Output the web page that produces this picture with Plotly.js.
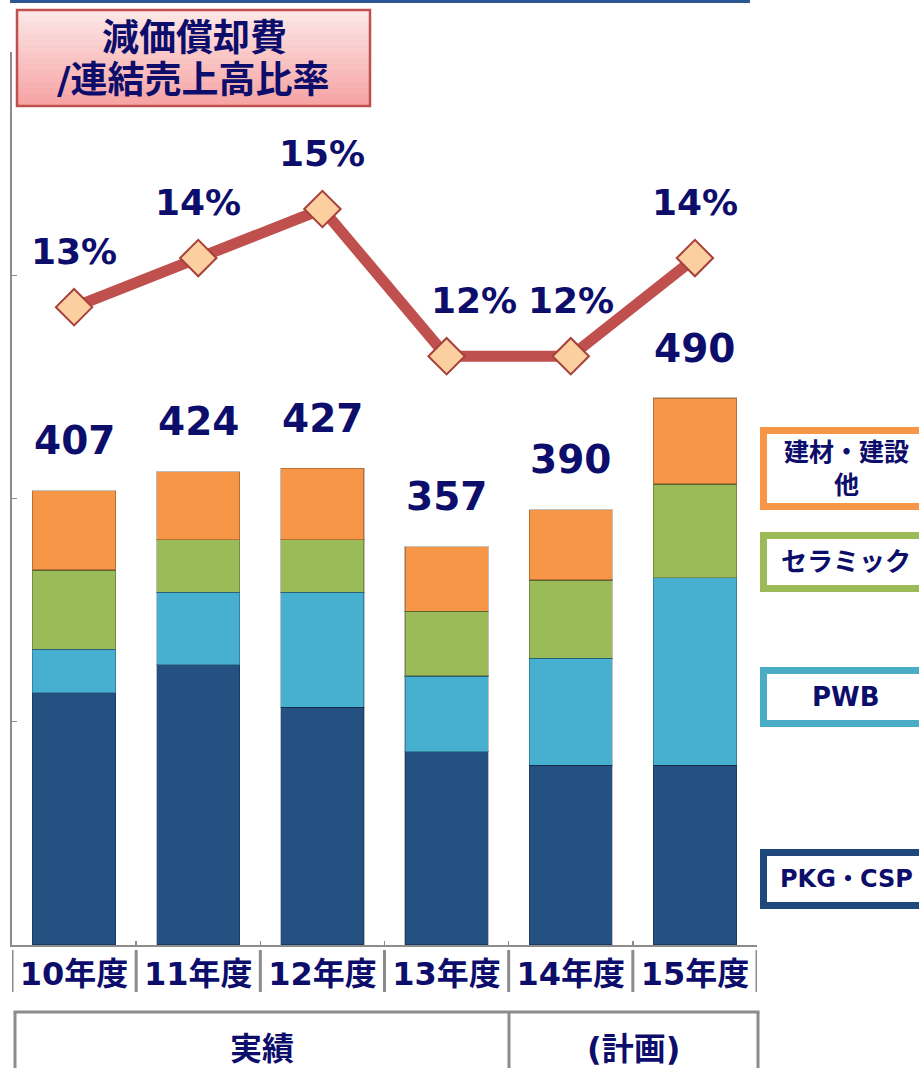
<!DOCTYPE html>
<html>
<head>
<meta charset="utf-8">
<script src="https://cdn.plot.ly/plotly-3.0.1.min.js"></script>
<style>html,body{margin:0;padding:0;background:#fff;}#chart{width:919px;height:1068px;}</style>
</head>
<body>
<div id="chart"></div>
<script>
// ---- data ----
const categories = ['10年度', '11年度', '12年度', '13年度', '14年度', '15年度'];
const pkgCsp   = [226, 251, 213, 173, 161, 161];
const pwb      = [39, 65, 103, 68, 96, 168];
const ceramic  = [71, 47, 47, 58, 70, 84];
const building = [71, 61, 64, 58, 63, 77];
const totals   = [407, 424, 427, 357, 390, 490];
const ratio    = [13, 14, 15, 12, 12, 14];
const ratioLabels = ['13%', '14%', '15%', '12%', '12%', '14%'];
const seriesNames = ['PKG・CSP', 'PWB', 'セラミック', '建材・建設<br>他'];
const periodLabels = ['実績', '(計画)'];
const titleLines = ['減価償却費', '/連結売上高比率'];

// ---- style ----
const FONT = "'DejaVu Sans', 'Noto Sans CJK JP', sans-serif";
const NAVY = '#0d0d6b';
const GREY = '#8c8c8c';
const colors = ['#255082', '#47afd0', '#9bbb59', '#f79646'];

// plot area in pixels
const L = 12, R = 757, T = 52, B = 945;
const px = x => (x - L) / (R - L);
const py = y => (B - y) / (B - T);

const series = [pkgCsp, pwb, ceramic, building];
const traces = series.map((vals, i) => ({
  type: 'bar', x: categories, y: vals, name: seriesNames[i],
  marker: {color: colors[i], line: {color: 'rgba(0,0,0,0.25)', width: 1.2}},
  hoverinfo: 'skip'
}));
traces.push({
  type: 'scatter', mode: 'lines+markers', x: categories, y: ratio, yaxis: 'y2',
  line: {color: '#c0504d', width: 11},
  marker: {symbol: 'diamond', size: 28, color: '#fbcf9f', line: {color: '#a8403a', width: 2}},
  hoverinfo: 'skip'
});

const annotations = [];
const paperText = (x, y, text, size) => ({
  x: px(x), y: py(y), xref: 'paper', yref: 'paper', xanchor: 'center', yanchor: 'middle',
  text: text, showarrow: false, font: {family: FONT, size: size, color: NAVY, weight: 'bold'}
});
totals.forEach((v, i) => annotations.push({
  x: categories[i], y: v, xref: 'x', yref: 'y', xanchor: 'center', yanchor: 'middle',
  text: String(v), showarrow: false,
  yshift: 50, font: {family: FONT, size: 39, color: NAVY, weight: 'bold'}
}));
ratio.forEach((v, i) => annotations.push({
  x: categories[i], y: v, xref: 'x', yref: 'y2', xanchor: 'center', yanchor: 'middle',
  text: ratioLabels[i], showarrow: false,
  yshift: 56, xshift: i === 3 ? 27 : 0, font: {family: FONT, size: 36, color: NAVY, weight: 'bold'}
}));
// title
annotations.push(paperText(194, 39, titleLines[0], 37));
annotations.push(paperText(193, 81, titleLines[1], 37));
// legend boxes
const legendBoxes = [
  {top: 427, bottom: 510, color: colors[3], name: seriesNames[3], size: 25},
  {top: 532, bottom: 592, color: colors[2], name: seriesNames[2], size: 26},
  {top: 667, bottom: 727, color: '#4bacc6', name: seriesNames[1], size: 26},
  {top: 849, bottom: 909, color: '#1f497d', name: seriesNames[0], size: 24}
];
const shapes = [];
// top border line
shapes.push({type: 'rect', xref: 'paper', yref: 'paper', x0: px(10), x1: px(750), y0: py(0), y1: py(3),
  fillcolor: '#2b5893', line: {width: 0}, layer: 'above'});
// title gradient box
const nb = 16, tTop = 10, tBot = 106;
for (let k = 0; k < nb; k++) {
  const f = k / (nb - 1);
  const c = (a, b) => Math.round(a + (b - a) * f);
  shapes.push({type: 'rect', xref: 'paper', yref: 'paper', x0: px(17), x1: px(370),
    y0: py(tTop + (tBot - tTop) * k / nb), y1: py(tTop + (tBot - tTop) * (k + 1) / nb + 0.5),
    fillcolor: `rgb(${c(253, 246)},${c(230, 164)},${c(230, 164)})`, line: {width: 0}, layer: 'above'});
}
shapes.push({type: 'rect', xref: 'paper', yref: 'paper', x0: px(17), x1: px(370), y0: py(tTop), y1: py(tBot),
  line: {color: '#c0504d', width: 2.5}, layer: 'above'});
legendBoxes.forEach(b => {
  shapes.push({type: 'rect', xref: 'paper', yref: 'paper', x0: px(763.5), x1: px(935),
    y0: py(b.top + 3.5), y1: py(b.bottom - 3.5), fillcolor: '#ffffff', line: {color: b.color, width: 7}});
  annotations.push(paperText(846, (b.top + b.bottom) / 2, b.name, b.size));
});
// category separators under the axis
for (let k = 0; k <= categories.length; k++) {
  shapes.push({type: 'line', xref: 'x', yref: 'paper', x0: k - 0.5, x1: k - 0.5, y0: py(950), y1: py(992),
    line: {color: GREY, width: 3}});
}
// period table
const tblTop = 1012, tblBot = 1075, tblL = 15, tblM = 509, tblR = 758;
shapes.push({type: 'line', xref: 'paper', yref: 'paper', x0: px(tblL - 1.5), x1: px(tblR + 1.5), y0: py(tblTop), y1: py(tblTop), line: {color: GREY, width: 3}});
[tblL, tblM, tblR].forEach(x => shapes.push({type: 'line', xref: 'paper', yref: 'paper', x0: px(x), x1: px(x),
  y0: py(tblTop), y1: py(tblBot), line: {color: GREY, width: 3}}));
annotations.push(paperText((tblL + tblM) / 2, 1049, periodLabels[0], 32));
annotations.push(paperText((tblM + tblR) / 2, 1049, periodLabels[1], 32));

const layout = {
  width: 919, height: 1068,
  margin: {l: L, r: 919 - R, t: T, b: 1068 - B, pad: 0},
  paper_bgcolor: '#ffffff', plot_bgcolor: '#ffffff',
  barmode: 'stack', bargap: 0.33, showlegend: false,
  font: {family: FONT, color: NAVY},
  xaxis: {type: 'category', range: [-0.5, 5.5], showline: true, linecolor: GREY, linewidth: 2,
    ticks: 'inside', tickson: 'boundaries', ticklen: 4, tickcolor: GREY, tickwidth: 1.5,
    tickfont: {family: FONT, size: 32, color: NAVY, weight: 'bold'}, showgrid: false, zeroline: false,
    fixedrange: true},
  yaxis: {range: [0, 800], dtick: 200, showline: true, linecolor: GREY, linewidth: 2,
    ticks: 'inside', ticklen: 5, tickcolor: GREY, showticklabels: false, showgrid: false, zeroline: false},
  yaxis2: {overlaying: 'y', range: [0, 18.2], visible: false, showgrid: false, zeroline: false},
  shapes: shapes, annotations: annotations
};
Plotly.newPlot('chart', traces, layout, {displayModeBar: false, staticPlot: true});
</script>
</body>
</html>
